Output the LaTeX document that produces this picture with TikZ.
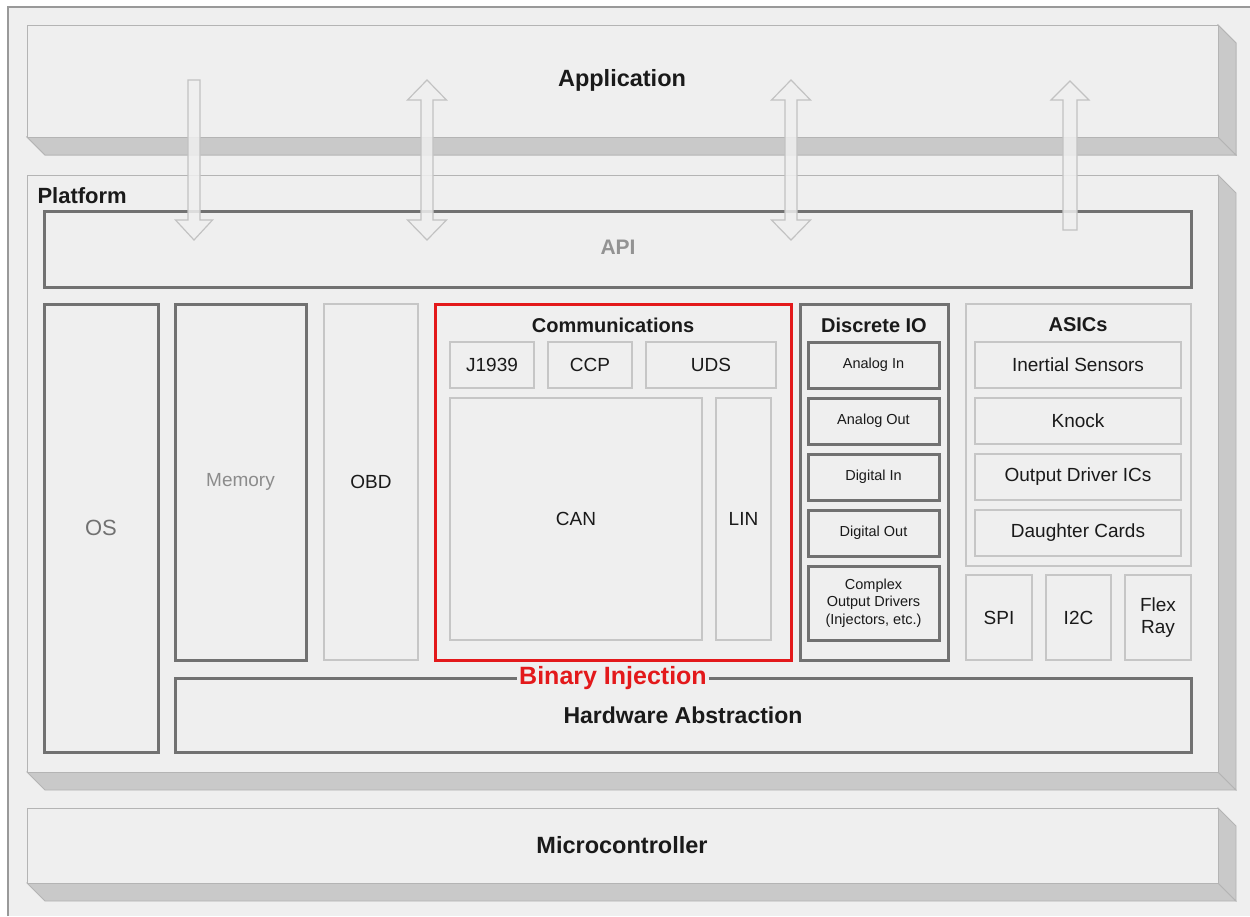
\documentclass[tikz,border=0pt]{standalone}
\usepackage{fontspec}
\setmainfont{Liberation Sans}
\definecolor{bg}{HTML}{EFEFEF}
\definecolor{side}{HTML}{C9C9C9}
\definecolor{edge}{HTML}{B4B4B4}
\definecolor{dark}{HTML}{717171}
\definecolor{light}{HTML}{C6C6C6}
\definecolor{redc}{HTML}{E3191B}
\definecolor{txt}{HTML}{1A1A1A}
\definecolor{arrowedge}{HTML}{C2C2C2}
\begin{document}
\begin{tikzpicture}[x=1pt,y=-1pt,
  face/.style={fill=bg,draw=edge,line width=1.2pt},
  sideface/.style={fill=side,draw=edge,line width=0.8pt},
  thickbox/.style={draw=dark,line width=3pt,fill=bg,anchor=north west,inner sep=0pt,outer sep=0pt},
  thinbox/.style={draw=light,line width=1.6pt,fill=bg,anchor=north west,inner sep=0pt,outer sep=0pt},
  redbox/.style={draw=redc,line width=3pt,anchor=north west,inner sep=0pt,outer sep=0pt},
  lbl/.style={text=txt,font=\fontsize{19}{22}\selectfont},
  small/.style={text=txt,font=\fontsize{14.5}{17.5}\selectfont,align=center},
  title/.style={text=txt,font=\bfseries\fontsize{20}{24}\selectfont},
  big/.style={text=txt,font=\bfseries\fontsize{23.5}{28}\selectfont},
  arr/.style={fill=bg,fill opacity=0.85,draw=arrowedge,line width=1.2pt,line join=miter}]
\useasboundingbox (0,0) rectangle (1250,916);
\fill[white] (0,0) rectangle (1250,916);
\fill[bg] (8,7) rectangle (1250,916);
\draw[color=gray!80,line width=1.5pt] (8,916) -- (8,7) -- (1250,7);

% Application slab
\fill[sideface] (27,137) -- (1218,137) -- (1236,155) -- (45,155) -- cycle;
\fill[sideface] (1218,25) -- (1236,43) -- (1236,155) -- (1218,137) -- cycle;
\draw[sideface] (27,137) -- (1218,137) -- (1236,155) -- (45,155) -- cycle;
\draw[sideface] (1218,25) -- (1236,43) -- (1236,155) -- (1218,137) -- cycle;
\node[face,anchor=north west,minimum width=1191pt,minimum height=112pt,inner sep=0pt] (app) at (27,25) {};
\node[big] (applbl) at (622,80) {Application};

% Platform slab
\draw[sideface] (27,772) -- (1218,772) -- (1236,790) -- (45,790) -- cycle;
\draw[sideface] (1218,175) -- (1236,193) -- (1236,790) -- (1218,772) -- cycle;
\node[face,anchor=north west,minimum width=1191pt,minimum height=597pt,inner sep=0pt] (plat) at (27,175) {};
\node[big,anchor=west,font=\bfseries\fontsize{22}{26}\selectfont] (platlbl) at (34,196) {Platform};

% Microcontroller slab
\draw[sideface] (27,883) -- (1218,883) -- (1236,901) -- (45,901) -- cycle;
\draw[sideface] (1218,808) -- (1236,826) -- (1236,901) -- (1218,883) -- cycle;
\node[face,anchor=north west,minimum width=1191pt,minimum height=75pt,inner sep=0pt] (mc) at (27,808) {};
\node[big] (mclbl) at (622,845) {Microcontroller};

% API
\node[thickbox,minimum width=1147pt,minimum height=76pt] (api) at (44,211) {};
\node[text=gray!85,font=\bfseries\fontsize{21}{25}\selectfont] (apilbl) at (618,247) {API};

% OS, Memory, OBD
\node[thickbox,minimum width=114pt,minimum height=448pt] (os) at (44,304) {};
\node[text=dark,font=\fontsize{22}{26}\selectfont] at (os.center) {OS};
\node[thickbox,minimum width=131pt,minimum height=356pt] (mem) at (175,304) {};
\node[text=gray!90,font=\fontsize{19}{22}\selectfont] at (mem.center) {Memory};
\node[thinbox,minimum width=94pt,minimum height=356pt] (obd) at (324,304) {};
\node[lbl] at (obd.center) {OBD};

% Communications
\node[thinbox,draw=none,minimum width=356pt,minimum height=356pt] (commbg) at (435,304) {};
\node[title] (commlbl) at (613,325) {Communications};
\node[thinbox,minimum width=84pt,minimum height=46pt] (j1939) at (450,342) {};
\node[lbl] at (j1939.center) {J1939};
\node[thinbox,minimum width=84pt,minimum height=46pt] (ccp) at (548,342) {};
\node[lbl] at (ccp.center) {CCP};
\node[thinbox,minimum width=130pt,minimum height=46pt] (uds) at (646,342) {};
\node[lbl] at (uds.center) {UDS};
\node[thinbox,minimum width=252pt,minimum height=242pt] (can) at (450,398) {};
\node[lbl] at (can.center) {CAN};
\node[thinbox,minimum width=55pt,minimum height=242pt] (lin) at (716,398) {};
\node[lbl] at (lin.center) {LIN};
\node[redbox,minimum width=356pt,minimum height=356pt] (comm) at (435,304) {};

% Discrete IO
\node[thickbox,minimum width=148pt,minimum height=356pt] (dio) at (800,304) {};
\node[title] (diolbl) at (874,325) {Discrete IO};
\node[thickbox,minimum width=131pt,minimum height=46pt] (ain) at (808,342) {};
\node[small] at (ain.center) {Analog In};
\node[thickbox,minimum width=131pt,minimum height=46pt] (aout) at (808,398) {};
\node[small] at (aout.center) {Analog Out};
\node[thickbox,minimum width=131pt,minimum height=46pt] (din) at (808,454) {};
\node[small] at (din.center) {Digital In};
\node[thickbox,minimum width=131pt,minimum height=46pt] (dout) at (808,510) {};
\node[small] at (dout.center) {Digital Out};
\node[thickbox,minimum width=131pt,minimum height=74pt] (cod) at (808,566) {};
\node[small] at (cod.center) {Complex\\Output Drivers\\(Injectors, etc.)};

% ASICs
\node[thinbox,minimum width=225pt,minimum height=262pt] (asics) at (966,304) {};
\node[title] (asicslbl) at (1078,325) {ASICs};
\node[thinbox,minimum width=206pt,minimum height=46pt] (inert) at (975,342) {};
\node[lbl] at (inert.center) {Inertial Sensors};
\node[thinbox,minimum width=206pt,minimum height=46pt] (knock) at (975,398) {};
\node[lbl] at (knock.center) {Knock};
\node[thinbox,minimum width=206pt,minimum height=46pt] (odic) at (975,454) {};
\node[lbl] at (odic.center) {Output Driver ICs};
\node[thinbox,minimum width=206pt,minimum height=46pt] (dc) at (975,510) {};
\node[lbl] at (dc.center) {Daughter Cards};
\node[thinbox,minimum width=66pt,minimum height=85pt] (spi) at (966,575) {};
\node[lbl] at (spi.center) {SPI};
\node[thinbox,minimum width=65pt,minimum height=85pt] (i2c) at (1046,575) {};
\node[lbl] at (i2c.center) {I2C};
\node[thinbox,minimum width=66pt,minimum height=85pt] (flex) at (1125,575) {};
\node[lbl,align=center] at (flex.center) {Flex\\Ray};

% Hardware Abstraction
\node[thickbox,minimum width=1016pt,minimum height=74pt] (ha) at (175,678) {};
\node[big,font=\bfseries\fontsize{23}{27}\selectfont] (halbl) at (683,715) {Hardware Abstraction};
\node[fill=bg,text=redc,inner xsep=2pt,inner ysep=1pt,font=\bfseries\fontsize{25}{29}\selectfont] (bin) at (613,678) {Binary Injection};

% Arrows
\path[arr] (188,80) -- (200,80) -- (200,220) -- (212.5,220) -- (194,240) -- (175.5,220) -- (188,220) -- cycle;
\path[arr] (427,80) -- (446.5,100) -- (433,100) -- (433,220) -- (446.5,220) -- (427,240) -- (407.5,220) -- (421,220) -- (421,100) -- (407.5,100) -- cycle;
\path[arr] (791,80) -- (810.5,100) -- (797,100) -- (797,220) -- (810.5,220) -- (791,240) -- (771.5,220) -- (785,220) -- (785,100) -- (771.5,100) -- cycle;
\path[arr] (1070,81) -- (1089,100) -- (1077,100) -- (1077,230) -- (1063,230) -- (1063,100) -- (1051,100) -- cycle;
\end{tikzpicture}
\end{document}
